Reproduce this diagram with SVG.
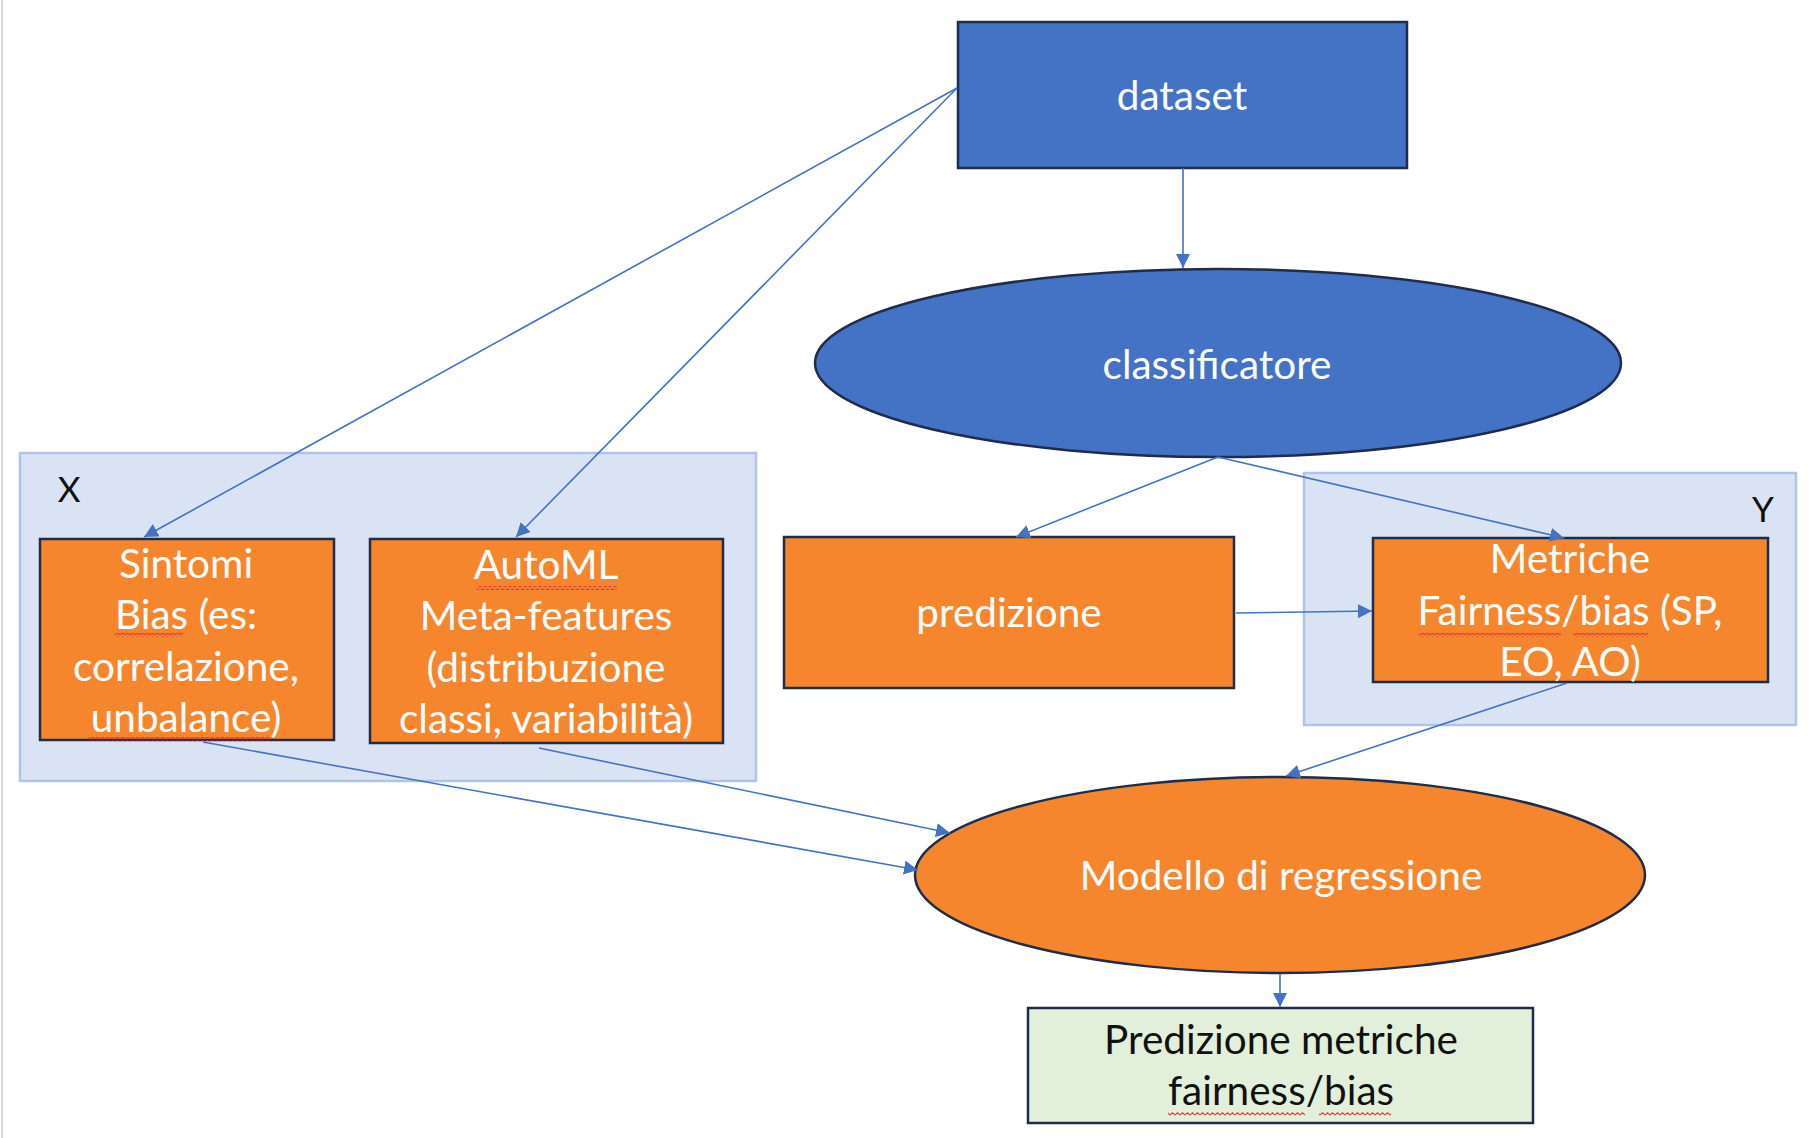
<svg xmlns="http://www.w3.org/2000/svg" width="1819" height="1138" viewBox="0 0 1819 1138">
<style>
  .bg { fill: #ffffff; }
  .grp { fill: #DAE3F3; stroke: #AFC4E8; stroke-width: 2.5; }
  .blue { fill: #4472C4; stroke: #1F2C4A; stroke-width: 2.5; }
  .orange { fill: #F5862E; stroke: #1F2C4A; stroke-width: 2.5; }
  .green { fill: #E2EFDA; stroke: #1F2C4A; stroke-width: 2.5; }
  .t { font-family: Lato, "Open Sans", "Liberation Sans", sans-serif; font-size: 40.5px; text-anchor: middle; fill: #ffffff; }
  .tk { fill: #111111; }
  .lbl { font-family: Lato, "Open Sans", "Liberation Sans", sans-serif; font-size: 35px; fill: #111111; }
  .edge { fill: none; stroke: #4472C4; stroke-width: 1.6; marker-end: url(#arr); }
  .wave { fill: url(#zig); }
</style>
<defs>
  <marker id="arr" markerUnits="userSpaceOnUse" markerWidth="16" markerHeight="14" refX="14" refY="7" orient="auto">
    <path d="M0,0 L14,7 L0,14 Z" fill="#4472C4"/>
  </marker>
  <pattern id="zig" patternUnits="userSpaceOnUse" width="5" height="4">
    <path d="M0,3 L2.5,0.8 L5,3" fill="none" stroke="#E0413A" stroke-width="1.1"/>
  </pattern>
</defs>
<rect class="bg" x="0" y="0" width="1819" height="1138"/>
<line x1="2" y1="0" x2="2" y2="1138" stroke="#D8D8D8" stroke-width="2"/>

<g id="group-X">
  <rect class="grp" x="20" y="453" width="736" height="328"/>
  <text class="lbl" x="69" y="502" text-anchor="middle">X</text>
</g>
<g id="group-Y">
  <rect class="grp" x="1304" y="473" width="492" height="252"/>
  <text class="lbl" x="1763" y="522" text-anchor="middle">Y</text>
</g>

<g id="dataset">
  <rect class="blue" x="958" y="22" width="449" height="146"/>
  <text class="t" x="1182" y="110">dataset</text>
</g>
<g id="classificatore">
  <ellipse class="blue" cx="1218" cy="363" rx="403" ry="94"/>
  <text class="t" x="1217" y="379">classificatore</text>
</g>
<g id="sintomi">
  <rect class="orange" x="40" y="539" width="294" height="201"/>
  <text class="t" x="186" y="578">Sintomi</text>
  <text class="t" x="186" y="629">Bias (es:</text>
  <text class="t" x="186" y="681">correlazione,</text>
  <text class="t" x="186" y="732">unbalance)</text>
  <rect class="wave" x="115" y="633" width="68" height="4"/>
  <rect class="wave" x="88" y="737" width="182" height="4"/>
</g>
<g id="automl">
  <rect class="orange" x="370" y="539" width="353" height="204"/>
  <text class="t" x="546" y="579">AutoML</text>
  <text class="t" x="546" y="630">Meta-features</text>
  <text class="t" x="546" y="682">(distribuzione</text>
  <text class="t" x="546" y="733">classi, variabilità)</text>
  <rect class="wave" x="477" y="586" width="140" height="4"/>
</g>
<g id="predizione">
  <rect class="orange" x="784" y="537" width="450" height="151"/>
  <text class="t" x="1009" y="627">predizione</text>
</g>
<g id="metriche">
  <rect class="orange" x="1373" y="538" width="395" height="144"/>
  <text class="t" x="1570" y="573">Metriche</text>
  <text class="t" x="1570" y="625">Fairness/bias (SP,</text>
  <text class="t" x="1570" y="676">EO, AO)</text>
  <rect class="wave" x="1419" y="633" width="142" height="4"/>
  <rect class="wave" x="1573" y="633" width="75" height="4"/>
</g>
<g id="modello">
  <ellipse class="orange" cx="1280" cy="875" rx="365" ry="98"/>
  <text class="t" x="1281" y="890">Modello di regressione</text>
</g>
<g id="predizione-metriche">
  <rect class="green" x="1028" y="1008" width="505" height="115"/>
  <text class="t tk" x="1281" y="1054">Predizione metriche</text>
  <text class="t tk" x="1281" y="1105">fairness/bias</text>
  <rect class="wave" x="1168" y="1112" width="137" height="4"/>
  <rect class="wave" x="1319" y="1112" width="72" height="4"/>
</g>

<g id="connectors">
  <line class="edge" x1="957" y1="88" x2="144" y2="537"/>
  <line class="edge" x1="957" y1="88" x2="516" y2="537"/>
  <line class="edge" x1="1183" y1="168" x2="1183" y2="268"/>
  <line class="edge" x1="1218" y1="457" x2="1016" y2="537"/>
  <line class="edge" x1="1218" y1="457" x2="1564" y2="538"/>
  <line class="edge" x1="1236" y1="613" x2="1372" y2="611"/>
  <line class="edge" x1="1567" y1="683" x2="1286" y2="776"/>
  <line class="edge" x1="203" y1="742" x2="918" y2="870"/>
  <line class="edge" x1="539" y1="748" x2="950" y2="833"/>
  <line class="edge" x1="1280" y1="974" x2="1280" y2="1007"/>
</g>
</svg>
